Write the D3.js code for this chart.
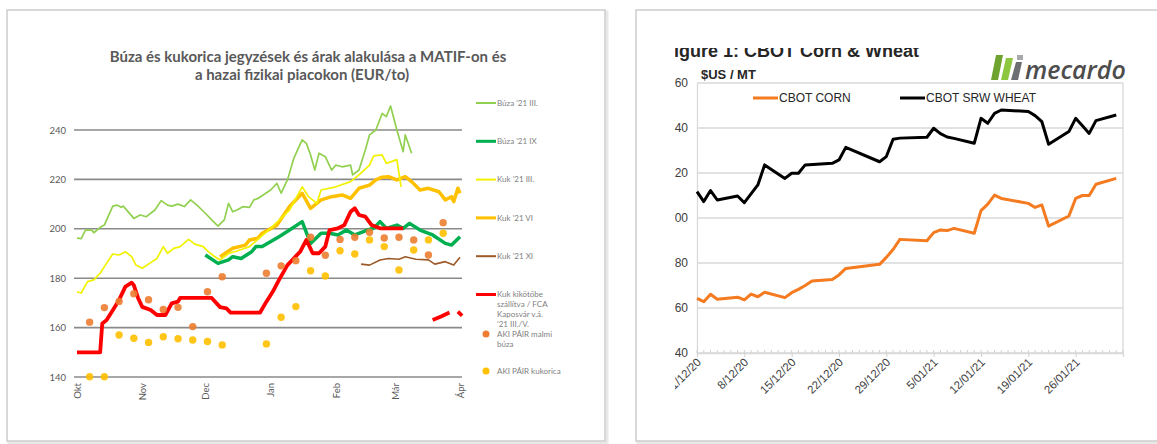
<!DOCTYPE html>
<html>
<head>
<meta charset="utf-8">
<script src="https://d3js.org/d3.v7.min.js"></script>
<style>
    body { margin: 0; background: #ffffff; }
</style>
</head>
<body>
<script>

//left chart data (EUR/to)
var leftMonths = ["Okt", "Nov", "Dec", "Jan", "Feb", "Már", "Ápr"];
var leftMonthDates = ["2020-10-01", "2020-11-01", "2020-12-01", "2021-01-01", "2021-02-01", "2021-03-01", "2021-04-01"];
var leftYTicks = [140, 160, 180, 200, 220, 240];

var buzaMar = [["2020-10-01",196.2],["2020-10-03",196],["2020-10-05",199.5],["2020-10-08",199.5],["2020-10-09",198.4],["2020-10-12",200.6],["2020-10-14",201.5],["2020-10-18",209.2],["2020-10-20",209.6],["2020-10-22",208.7],["2020-10-23",209.2],["2020-10-28",204.2],["2020-10-31",205.6],["2020-11-03",204.9],["2020-11-07",207.6],["2020-11-10",211.4],["2020-11-13",209.6],["2020-11-15",209.2],["2020-11-18",210],["2020-11-21",209],["2020-11-24",211.7],["2020-11-27",209.6],["2020-12-01",206.3],["2020-12-04",203.6],["2020-12-07",201.1],["2020-12-10",203.6],["2020-12-12",210.3],["2020-12-14",206.9],["2020-12-16",207.6],["2020-12-19",209],["2020-12-22",208.7],["2020-12-24",211.7],["2020-12-26",212.3],["2021-01-01",215.7],["2021-01-04",218.4],["2021-01-06",214.4],["2021-01-09",219.8],["2021-01-12",228.5],["2021-01-16",236],["2021-01-18",234.6],["2021-01-20",229.9],["2021-01-22",223.8],["2021-01-24",230.6],["2021-01-27",229.2],["2021-01-30",223.8],["2021-02-01",225.8],["2021-02-04",225.1],["2021-02-08",225.8],["2021-02-09",221.8],["2021-02-12",223.8],["2021-02-15",231.9],["2021-02-17",238],["2021-02-20",240],["2021-02-23",246.7],["2021-02-25",245.4],["2021-02-27",249.7],["2021-03-02",240],["2021-03-05",231.2],["2021-03-06",238],["2021-03-09",230.6]];

var buzaSep = [["2020-12-01",189.4],["2020-12-07",186],["2020-12-12",187.4],["2020-12-14",188.7],["2020-12-18",188],["2020-12-23",190.7],["2020-12-25",192.8],["2020-12-28",192.8],["2021-01-05",196.8],["2021-01-10",199.5],["2021-01-16",202.9],["2021-01-20",194.1],["2021-01-25",198.2],["2021-01-29",198.2],["2021-02-02",197.5],["2021-02-06",199.5],["2021-02-10",197.5],["2021-02-16",199.5],["2021-02-19",200.2],["2021-02-22",202.9],["2021-02-25",200.2],["2021-03-02",201.5],["2021-03-05",200.2],["2021-03-08",202.2],["2021-03-13",199.5],["2021-03-19",197.5],["2021-03-25",194.1],["2021-03-28",193.4],["2021-04-01",196.8]];

var kukMar = [["2020-10-01",174.5],["2020-10-03",174],["2020-10-06",178.6],["2020-10-09",179.3],["2020-10-12",182],["2020-10-15",186],["2020-10-18",189.8],["2020-10-21",189.4],["2020-10-24",190.7],["2020-10-27",188.7],["2020-10-29",185.3],["2020-11-01",184],["2020-11-05",186.3],["2020-11-08",188],["2020-11-11",192.8],["2020-11-13",190.1],["2020-11-16",192.1],["2020-11-19",192.8],["2020-11-23",195.7],["2020-11-26",193.8],["2020-11-30",192.8],["2020-12-02",191.1],["2020-12-05",189],["2020-12-08",187.4],["2020-12-12",190],["2020-12-16",191],["2020-12-22",192.8],["2021-01-01",200.2],["2021-01-10",207.6],["2021-01-16",217],["2021-01-19",213],["2021-01-23",210.3],["2021-01-25",215.7],["2021-02-01",217],["2021-02-08",219.1],["2021-02-12",221.8],["2021-02-17",225.8],["2021-02-19",229.5],["2021-02-23",229.9],["2021-02-25",226.5],["2021-03-02",228],["2021-03-04",217]];

var kukMay = [["2020-12-08",188.7],["2020-12-14",192.1],["2020-12-20",193.4],["2020-12-22",195.5],["2020-12-26",196.2],["2020-12-28",198.2],["2021-01-04",201.5],["2021-01-10",209],["2021-01-16",214.4],["2021-01-20",208.3],["2021-01-25",211.7],["2021-01-30",213],["2021-02-04",213.7],["2021-02-08",212.3],["2021-02-12",216.4],["2021-02-17",217.7],["2021-02-20",219.8],["2021-02-23",220.9],["2021-02-26",221.1],["2021-03-02",219.8],["2021-03-06",221.1],["2021-03-09",219.1],["2021-03-13",215.7],["2021-03-17",216.4],["2021-03-22",215],["2021-03-25",211.7],["2021-03-28",213],["2021-03-29",211],["2021-03-31",216.4],["2021-04-01",214.4]];

var kukSep = [["2021-02-13",185.7],["2021-02-17",185.3],["2021-02-22",187.4],["2021-02-26",188],["2021-03-03",187.7],["2021-03-06",188.7],["2021-03-11",187.7],["2021-03-17",187.4],["2021-03-20",185.7],["2021-03-25",186.7],["2021-03-29",185.3],["2021-04-01",188.5]];

//null marks a break in the line
var kukKikoto = [["2020-10-01",150],["2020-10-12",150],["2020-10-13",161.7],["2020-10-15",163],["2020-10-18",167],["2020-10-21",171.2],["2020-10-24",176.6],["2020-10-27",178.2],["2020-10-28",177.2],["2020-10-30",172],["2020-11-01",168.4],["2020-11-05",167.1],["2020-11-08",165.1],["2020-11-12",165.1],["2020-11-15",169.8],["2020-11-18",170.5],["2020-11-19",172],["2020-12-04",172],["2020-12-08",168.3],["2020-12-11",167.8],["2020-12-13",166.1],["2020-12-27",166.1],["2020-12-30",170.5],["2021-01-02",174.5],["2021-01-05",179.3],["2021-01-09",185.3],["2021-01-12",188],["2021-01-15",190.7],["2021-01-18",195.5],["2021-01-21",190.1],["2021-01-24",190.1],["2021-01-27",192.8],["2021-01-29",199.5],["2021-02-02",200.2],["2021-02-05",201.5],["2021-02-08",206.9],["2021-02-10",208.3],["2021-02-12",205.6],["2021-02-15",204.9],["2021-02-18",201.5],["2021-02-22",200.2],["2021-03-05",200.2],["2021-03-12",null],["2021-03-19",163.1],["2021-03-23",164.5],["2021-03-27",166.1],["2021-03-29",null],["2021-03-31",166.5],["2021-04-02",164.8]];

var pairBuza = [["2020-10-07",162.2],["2020-10-14",168.1],["2020-10-21",170.6],["2020-10-28",173.7],["2020-11-04",171.3],["2020-11-11",167.3],["2020-11-18",168.2],["2020-11-25",160.4],["2020-12-02",174.5],["2020-12-09",180.6],["2020-12-30",182],["2021-01-06",185],["2021-01-13",187.1],["2021-01-20",196.6],["2021-01-27",189.3],["2021-02-03",195.7],["2021-02-10",196.6],["2021-02-17",198.6],["2021-02-24",196.3],["2021-03-03",196.6],["2021-03-10",195.5],["2021-03-17",189.4],["2021-03-24",202.5]];

var pairKukorica = [["2020-10-07",140.1],["2020-10-14",140.1],["2020-10-21",157],["2020-10-28",155.7],["2020-11-04",154],["2020-11-11",156.3],["2020-11-18",155.5],["2020-11-25",155],["2020-12-02",154.4],["2020-12-09",153],["2020-12-30",153.4],["2021-01-06",164.2],["2021-01-13",168.5],["2021-01-20",183],["2021-01-27",180.9],["2021-02-03",191.1],["2021-02-10",189.8],["2021-02-17",195.5],["2021-02-24",192.8],["2021-03-03",183.3],["2021-03-10",191.4],["2021-03-17",195.5],["2021-03-24",198.2]];

var leftLegendNames = ["Búza '21 III.", "Búza '21 IX", "Kuk '21 III.", "Kuk '21 VI", "Kuk '21 XI",
    "Kuk kikötőbe|szállítva / FCA|Kaposvár v.á.|'21 III./V.", "AKI PÁIR malmi|búza", "AKI PÁIR kukorica"];

//right chart data ($US / MT)
var rightYTicks = [140, 160, 180, 200, 220, 240, 260];
var rightTickDates = ["2020-12-01", "2020-12-08", "2020-12-15", "2020-12-22", "2020-12-29", "2021-01-05", "2021-01-12", "2021-01-19", "2021-01-26"];
var rightLegendNames = ["CBOT CORN", "CBOT SRW WHEAT"];

var cbotWheat = [["2020-12-01",211.7],["2020-12-02",207.3],["2020-12-03",212.2],["2020-12-04",208],["2020-12-07",209.8],["2020-12-08",206.8],["2020-12-10",214.7],["2020-12-11",223.6],["2020-12-14",217.6],["2020-12-15",219.9],["2020-12-16",219.9],["2020-12-17",223.6],["2020-12-21",224.3],["2020-12-22",225.8],["2020-12-23",231.4],["2020-12-28",225],["2020-12-29",227.3],["2020-12-30",235],["2020-12-31",235.5],["2021-01-04",235.9],["2021-01-05",239.9],["2021-01-06",237.5],["2021-01-07",236],["2021-01-08",235.4],["2021-01-11",233.2],["2021-01-12",244.3],["2021-01-13",242.1],["2021-01-14",246.5],["2021-01-15",248],["2021-01-19",247.3],["2021-01-20",245.5],["2021-01-21",242.8],["2021-01-22",232.8],["2021-01-25",238.4],["2021-01-26",244.3],["2021-01-27",241],["2021-01-28",237.6],["2021-01-29",243.3],["2021-02-01",245.8]];

var cbotCorn = [["2020-12-01",164.3],["2020-12-02",162.8],["2020-12-03",166.1],["2020-12-04",163.9],["2020-12-07",164.8],["2020-12-08",163.6],["2020-12-09",166.2],["2020-12-10",165],["2020-12-11",167],["2020-12-14",164.6],["2020-12-15",166.8],["2020-12-16",168.3],["2020-12-17",170],["2020-12-18",172],["2020-12-21",172.7],["2020-12-22",174.7],["2020-12-23",177.6],["2020-12-28",179.4],["2020-12-29",182.5],["2020-12-30",186],["2020-12-31",190.5],["2021-01-04",189.9],["2021-01-05",193.5],["2021-01-06",194.7],["2021-01-07",194.4],["2021-01-08",195.4],["2021-01-11",193.2],["2021-01-12",203.3],["2021-01-13",206.2],["2021-01-14",210.2],["2021-01-15",208.7],["2021-01-19",206.5],["2021-01-20",204.7],["2021-01-21",205.8],["2021-01-22",196.4],["2021-01-25",200.9],["2021-01-26",208.7],["2021-01-27",210],["2021-01-28",210],["2021-01-29",215],["2021-02-01",217.6]];


window.onload = function(){

    var w = 1157, h = 444;
    var parse = d3.timeParse("%Y-%m-%d");

    var svg = d3.select("body")
        .append("svg")
        .attr("width", w)
        .attr("height", h);

    var defs = svg.append("defs");

    //the two white cards with a grey edge
    [[7, 10, 598, 431], [636, 10, 530, 431]].forEach(function(c){
        svg.append("rect")
            .attr("x", c[0] + 2).attr("y", c[1] + 2)
            .attr("width", c[2]).attr("height", c[3])
            .style("fill", "none")
            .style("stroke", "#e8e8e8")
            .style("stroke-width", 3);
        svg.append("rect")
            .attr("x", c[0]).attr("y", c[1])
            .attr("width", c[2]).attr("height", c[3])
            .style("fill", "#ffffff")
            .style("stroke", "#cdcdcd")
            .style("stroke-width", 1.5);
    });

    // ---------------- left chart ----------------
    var left = svg.append("g").attr("class", "left");
    var lfont = "Lato, 'Open Sans', sans-serif";

    var xL = d3.scaleTime()
        .domain([parse("2020-10-01"), parse("2021-04-01")])
        .range([77, 460]);

    var yL = d3.scaleLinear()
        .domain([140, 240])
        .range([377, 130]);

    //title
    var title = left.append("text")
        .attr("text-anchor", "middle")
        .style("font-family", lfont)
        .style("font-weight", "bold")
        .style("font-size", "15px")
        .style("fill", "#595959");
    title.append("tspan").attr("x", 308).attr("y", 62)
        .text("Búza és kukorica jegyzések és árak alakulása a MATIF-on  és");
    title.append("tspan").attr("x", 302).attr("y", 80)
        .text("a hazai fizikai piacokon (EUR/to)");

    //gridlines
    left.selectAll(".lgrid")
        .data(leftYTicks)
        .enter()
        .append("line")
        .attr("class", "lgrid")
        .attr("x1", 74).attr("x2", 462)
        .attr("y1", function(d){ return yL(d); })
        .attr("y2", function(d){ return yL(d); })
        .style("stroke", "#8a8a8a")
        .style("stroke-width", 1.6);

    //y axis labels
    var yAxisL = d3.axisLeft(yL)
        .tickValues(leftYTicks)
        .tickSize(0)
        .tickPadding(0);
    var gyL = left.append("g")
        .attr("transform", "translate(66,0)")
        .call(yAxisL);
    gyL.select(".domain").remove();
    gyL.selectAll("text")
        .style("font-family", lfont)
        .style("font-size", "9.5px")
        .style("fill", "#595959");

    //month labels, rotated
    var xAxisL = d3.axisBottom(xL)
        .tickValues(leftMonthDates.map(parse))
        .tickFormat(function(d, i){ return leftMonths[i]; })
        .tickSize(0);
    var gxL = left.append("g")
        .attr("transform", "translate(0,383)")
        .call(xAxisL);
    gxL.select(".domain").remove();
    gxL.selectAll("text")
        .attr("transform", "rotate(-90)")
        .attr("x", 0).attr("y", 0)
        .attr("dy", "0.35em")
        .attr("text-anchor", "end")
        .style("font-family", lfont)
        .style("font-size", "9.5px")
        .style("fill", "#595959");

    var lineL = d3.line()
        .defined(function(d){ return d[1] !== null; })
        .x(function(d){ return xL(parse(d[0])); })
        .y(function(d){ return yL(d[1]); });

    //series styles, in legend order
    var leftSeries = [
        { data: buzaMar, color: "#92d050", width: 1.7 },
        { data: buzaSep, color: "#00b050", width: 3.5 },
        { data: kukMar, color: "#f2f200", width: 1.7 },
        { data: kukMay, color: "#ffc000", width: 3.5 },
        { data: kukSep, color: "#9c5a2a", width: 1.6 },
        { data: kukKikoto, color: "#ff0000", width: 3.8 }
    ];

    //draw order: thick orange first so the thin yellow shows on top
    [3, 2, 0, 1, 4, 5].forEach(function(i){
        var s = leftSeries[i];
        left.append("path")
            .datum(s.data)
            .attr("d", lineL)
            .style("fill", "none")
            .style("stroke", s.color)
            .style("stroke-width", s.width)
            .style("stroke-linejoin", "round");
    });

    //dot series
    var dotSeries = [
        { data: pairBuza, color: "#ed7d31" },
        { data: pairKukorica, color: "#ffc000" }
    ];
    dotSeries.forEach(function(s){
        left.selectAll(null)
            .data(s.data)
            .enter()
            .append("circle")
            .attr("cx", function(d){ return xL(parse(d[0])); })
            .attr("cy", function(d){ return yL(d[1]); })
            .attr("r", 3.7)
            .style("fill", s.color)
            .style("opacity", 0.9);
    });

    //legend
    var legendY = [103, 141.3, 179.6, 217.9, 256.2, 294.5, 334, 371.1];
    var legendL = left.selectAll(".llegend")
        .data(leftLegendNames)
        .enter()
        .append("g")
        .attr("class", "llegend")
        .attr("transform", function(d, i){ return "translate(476," + legendY[i] + ")"; });

    legendL.each(function(d, i){
        var g = d3.select(this);
        if (i < 6) {
            g.append("line")
                .attr("x1", 0).attr("x2", 20)
                .style("stroke", leftSeries[i].color)
                .style("stroke-width", leftSeries[i].width > 3 ? 3 : 2);
        } else {
            g.append("circle")
                .attr("cx", 10).attr("cy", 0).attr("r", 3.5)
                .style("fill", dotSeries[i - 6].color);
        }
        var t = g.append("text")
            .style("font-family", lfont)
            .style("font-size", "8px")
            .style("fill", "#7f7f7f");
        d.split("|").forEach(function(line, k){
            t.append("tspan")
                .attr("x", 21)
                .attr("y", k * 10)
                .attr("dy", "0.35em")
                .text(line);
        });
    });

    // ---------------- right chart ----------------
    var right = svg.append("g").attr("class", "right");
    var rfont = "'Liberation Sans', Arial, sans-serif";

    //the picture was cropped on its left and top edges
    defs.append("clipPath").attr("id", "rclip")
        .append("rect")
        .attr("x", 675).attr("y", 48)
        .attr("width", 480).attr("height", 392);
    right.attr("clip-path", "url(#rclip)");

    var xR = d3.scaleTime()
        .domain([parse("2020-12-01"), parse("2021-02-02")])
        .range([697, 1123]);

    var yR = d3.scaleLinear()
        .domain([140, 260])
        .range([353, 83]);

    right.append("text")
        .attr("x", 663).attr("y", 57)
        .style("font-family", rfont)
        .style("font-weight", "bold")
        .style("font-size", "18px")
        .style("fill", "#262626")
        .text("Figure 1: CBOT Corn & Wheat");

    right.append("text")
        .attr("x", 701).attr("y", 79)
        .style("font-family", rfont)
        .style("font-weight", "bold")
        .style("font-size", "13px")
        .style("fill", "#262626")
        .text("$US / MT");

    //gridlines
    right.selectAll(".rgrid")
        .data(rightYTicks)
        .enter()
        .append("line")
        .attr("class", "rgrid")
        .attr("x1", 697).attr("x2", 1123)
        .attr("y1", function(d){ return yR(d); })
        .attr("y2", function(d){ return yR(d); })
        .style("stroke", "#d9d9d9")
        .style("stroke-width", 1.3);

    right.append("line")
        .attr("x1", 1123).attr("x2", 1123)
        .attr("y1", 83).attr("y2", 353)
        .style("stroke", "#d9d9d9")
        .style("stroke-width", 1.3);

    //y axis
    var yAxisR = d3.axisLeft(yR)
        .tickValues(rightYTicks)
        .tickSize(0)
        .tickPadding(9);
    var gyR = right.append("g")
        .attr("transform", "translate(697,0)")
        .call(yAxisR);
    gyR.select(".domain").style("stroke", "#d9d9d9").style("stroke-width", 1.3);
    gyR.selectAll("text")
        .style("font-family", rfont)
        .style("font-size", "12px")
        .style("fill", "#404040");

    //x axis with daily minor ticks
    right.selectAll(".rminor")
        .data(d3.timeDay.range(parse("2020-12-01"), parse("2021-02-03")))
        .enter()
        .append("line")
        .attr("class", "rminor")
        .attr("x1", function(d){ return xR(d); })
        .attr("x2", function(d){ return xR(d); })
        .attr("y1", 350).attr("y2", 353)
        .style("stroke", "#d0d0d0")
        .style("stroke-width", 1);

    var xAxisR = d3.axisBottom(xR)
        .tickValues(rightTickDates.map(parse))
        .tickFormat(d3.timeFormat("%-d/%m/%y"))
        .tickSize(4);
    var gxR = right.append("g")
        .attr("transform", "translate(0,353)")
        .call(xAxisR);
    gxR.select(".domain").style("stroke", "#d9d9d9").style("stroke-width", 1.3);
    gxR.selectAll(".tick line").style("stroke", "#d0d0d0");
    gxR.selectAll("text")
        .attr("transform", "rotate(-45)")
        .attr("x", -4).attr("y", 6)
        .attr("dy", "0.35em")
        .attr("text-anchor", "end")
        .style("font-family", rfont)
        .style("font-size", "11.5px")
        .style("fill", "#404040");

    var lineR = d3.line()
        .x(function(d){ return xR(parse(d[0])); })
        .y(function(d){ return yR(d[1]); });

    var rightSeries = [
        { data: cbotCorn, color: "#f47b20" },
        { data: cbotWheat, color: "#000000" }
    ];

    rightSeries.forEach(function(s){
        right.append("path")
            .datum(s.data)
            .attr("d", lineR)
            .style("fill", "none")
            .style("stroke", s.color)
            .style("stroke-width", 3)
            .style("stroke-linejoin", "round");
    });

    //legend inside the plot
    var legendR = right.selectAll(".rlegend")
        .data(rightLegendNames)
        .enter()
        .append("g")
        .attr("class", "rlegend")
        .attr("transform", function(d, i){ return "translate(" + (i === 0 ? 753 : 900) + ",98)"; });
    legendR.append("line")
        .attr("x1", 0).attr("x2", 25)
        .style("stroke", function(d, i){ return rightSeries[i].color; })
        .style("stroke-width", 3);
    legendR.append("text")
        .attr("x", 26)
        .attr("dy", "0.35em")
        .style("font-family", rfont)
        .style("font-size", "12px")
        .style("fill", "#262626")
        .text(function(d){ return d; });

    //mecardo logo
    var logo = svg.append("g").attr("transform", "translate(991,55)");
    logo.append("polygon").attr("points", "5,0 12,0 7,25 0,25").style("fill", "#6ea32f");
    logo.append("polygon").attr("points", "15,3 22,3 17,25 10,25").style("fill", "#8dc63f");
    logo.append("polygon").attr("points", "25,7 31,7 27,25 20,25").style("fill", "#6d6e71");
    logo.append("rect").attr("x", 26).attr("y", 0).attr("width", 6).attr("height", 5).style("fill", "#a7a9ac");
    logo.append("text")
        .attr("x", 34).attr("y", 24)
        .style("font-family", "'Open Sans', sans-serif")
        .style("font-style", "italic")
        .style("font-weight", "600")
        .style("font-size", "25px")
        .style("fill", "#4d4d4d")
        .text("mecardo");

}
</script>
</body>
</html>
